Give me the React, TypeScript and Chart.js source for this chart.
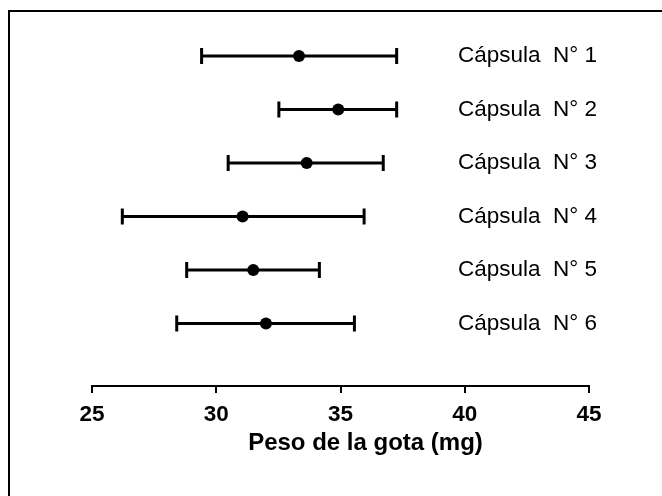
import React, { useEffect, useRef } from 'react';
import { Chart, registerables } from 'chart.js';

Chart.register(...registerables);

// ---- data ----
const capsuleLabels = ['Cápsula  N° 1', 'Cápsula  N° 2', 'Cápsula  N° 3', 'Cápsula  N° 4', 'Cápsula  N° 5', 'Cápsula  N° 6'];
const rows = [1, 2, 3, 4, 5, 6];
const means = [33.33, 34.91, 33.64, 31.06, 31.49, 32.0];
const lows = [29.41, 32.52, 30.48, 26.22, 28.81, 28.41];
const highs = [37.26, 37.26, 36.72, 35.95, 34.15, 35.56];
const xMin = 25;
const xMax = 45;
const xStep = 5;
const labelXValue = 39.73;
const xTitle = 'Peso de la gota (mg)';

const FONT = '"Liberation Sans", Arial, Helvetica, sans-serif';

const errorBarPlugin = {
  id: 'errorBars',
  beforeDatasetsDraw(chart: any) {
    const { ctx, scales } = chart;
    const xs = scales.x;
    const ys = scales.y;
    ctx.save();
    ctx.strokeStyle = '#000';
    ctx.lineWidth = 3;
    ctx.lineCap = 'butt';
    rows.forEach((r, i) => {
      const y = ys.getPixelForValue(r);
      const x1 = xs.getPixelForValue(lows[i]);
      const x2 = xs.getPixelForValue(highs[i]);
      ctx.beginPath();
      ctx.moveTo(x1, y);
      ctx.lineTo(x2, y);
      ctx.moveTo(x1, y - 8);
      ctx.lineTo(x1, y + 8);
      ctx.moveTo(x2, y - 8);
      ctx.lineTo(x2, y + 8);
      ctx.stroke();
    });
    ctx.restore();
  },
};

const textPlugin = {
  id: 'texts',
  afterDraw(chart: any) {
    const { ctx, scales, chartArea } = chart;
    const xs = scales.x;
    const ys = scales.y;
    ctx.save();
    ctx.fillStyle = '#000';
    ctx.font = `22.5px ${FONT}`;
    ctx.textAlign = 'left';
    ctx.textBaseline = 'middle';
    rows.forEach((r, i) => {
      ctx.fillText(capsuleLabels[i], xs.getPixelForValue(labelXValue), ys.getPixelForValue(r));
    });
    ctx.font = `bold 24px ${FONT}`;
    ctx.textAlign = 'center';
    ctx.textBaseline = 'alphabetic';
    const cx = (chartArea.left + chartArea.right) / 2 + 25;
    ctx.fillText(xTitle, cx, chartArea.bottom + 64);
    ctx.restore();
  },
};

export default function App() {
  const ref = useRef<HTMLCanvasElement | null>(null);

  useEffect(() => {
    if (!ref.current) return;
    const chart = new Chart(ref.current, {
      type: 'scatter',
      data: {
        datasets: [
          {
            data: means.map((m, i) => ({ x: m, y: rows[i] })),
            backgroundColor: '#000',
            borderColor: '#000',
            borderWidth: 0,
            pointRadius: 6,
            pointHoverRadius: 6,
            showLine: false,
          },
        ],
      },
      options: {
        animation: false,
        responsive: false,
        devicePixelRatio: 1,
        layout: { padding: { left: 82, right: 73, top: 22.6, bottom: 0 } },
        plugins: { legend: { display: false }, tooltip: { enabled: false } },
        events: [],
        scales: {
          x: {
            type: 'linear',
            position: 'bottom',
            min: xMin,
            max: xMax,
            ticks: {
              stepSize: xStep,
              color: '#000',
              padding: 8,
              font: { family: FONT, size: 22.5, weight: 'bold' },
            },
            grid: {
              display: true,
              drawOnChartArea: false,
              drawTicks: true,
              tickLength: 7,
              color: '#000',
              lineWidth: 2,
            },
            border: { display: true, color: '#000', width: 2 },
            afterFit(scale: any) {
              scale.height = 110;
            },
          },
          y: {
            type: 'linear',
            display: false,
            reverse: true,
            min: 0.6,
            max: 7.17,
          },
        },
      },
      plugins: [errorBarPlugin, textPlugin],
    } as any);
    return () => chart.destroy();
  }, []);

  return (
    <div
      style={{
        position: 'fixed',
        left: 8,
        top: 10,
        width: 654,
        height: 486,
        borderLeft: '2px solid #000',
        borderTop: '2px solid #000',
        boxSizing: 'border-box',
        background: '#fff',
      }}
    >
      <canvas ref={ref} width={652} height={484} style={{ display: 'block' }} />
    </div>
  );
}
